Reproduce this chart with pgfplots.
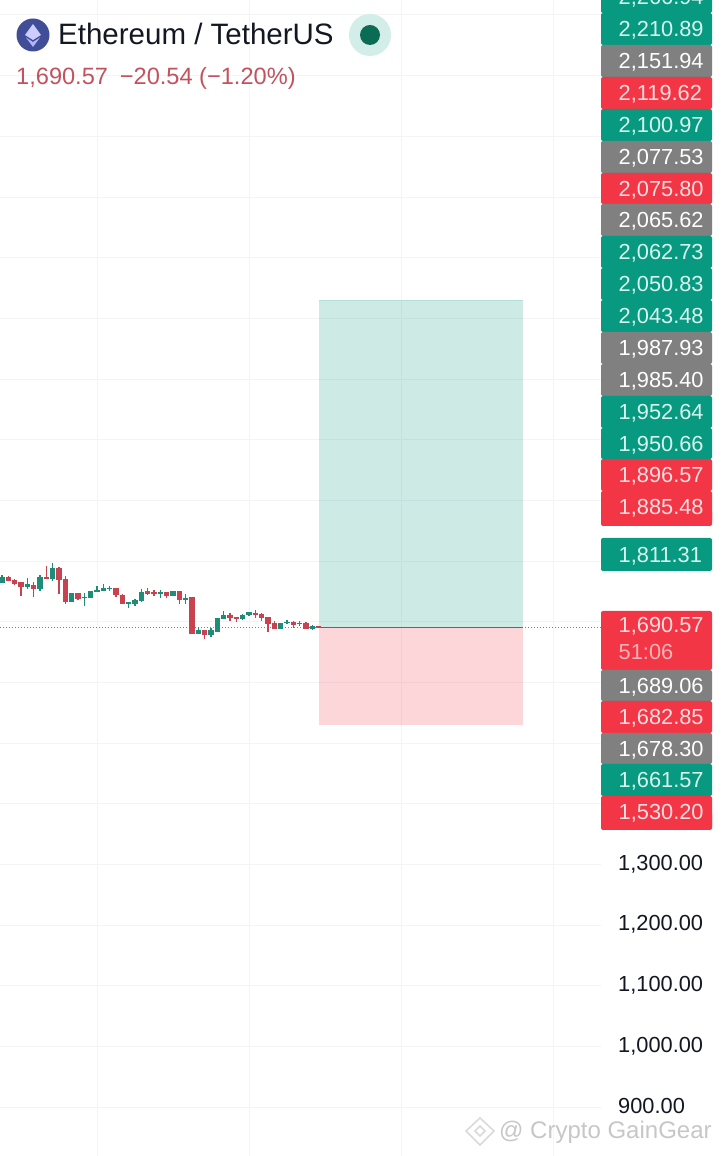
\documentclass[border=0pt]{standalone}
\usepackage{pgfplots}
\usepackage{pgfplotstable}
\usepackage{fontspec}
\setmainfont{Liberation Sans}
\pgfplotsset{compat=1.18}
\definecolor{cgreen}{HTML}{089981}
\definecolor{cred}{HTML}{F23645}
\definecolor{cgray}{HTML}{808080}
\definecolor{rbody}{HTML}{C8424F}
\definecolor{gbody}{HTML}{1F8C78}
\definecolor{gridc}{HTML}{F3F4F6}
\definecolor{tgreen}{HTML}{D6F5EF}
\definecolor{tred}{HTML}{FDDDE0}
\definecolor{pricec}{HTML}{C4525E}
\definecolor{ink}{HTML}{131722}
\definecolor{ethblue}{HTML}{3F4E96}
\definecolor{halo}{HTML}{D3EDE8}
\definecolor{dotc}{HTML}{0B6B55}
\pgfplotstableread{
x bot top low high
1 1764.3 1773.0 1764.3 1776.9
5 1756.6 1761.0 1753.3 1771.9
7 1753.8 1773.0 1751.1 1776.3
9 1770.9 1788.4 1767.0 1797.2
12 1733.0 1746.7 1733.0 1746.7
14 1739.5 1740.6 1725.8 1747.8
15 1739.5 1750.0 1739.5 1750.0
16 1749.4 1751.6 1748.3 1758.8
17 1751.1 1754.9 1750.5 1762.1
18 1754.4 1755.5 1750.5 1759.3
21 1730.2 1731.3 1723.0 1732.4
22 1729.6 1735.7 1726.3 1737.3
23 1734.0 1748.3 1732.4 1754.4
26 1746.7 1747.8 1739.0 1752.2
28 1742.8 1750.5 1742.8 1750.5
30 1736.7 1738.4 1729.0 1745.5
32 1680.1 1686.2 1680.1 1691.7
34 1678.5 1685.1 1675.2 1690.0
35 1683.4 1706.0 1683.4 1706.0
36 1704.3 1710.9 1704.3 1717.5
39 1704.3 1710.9 1702.7 1712.6
40 1710.4 1714.8 1709.8 1716.4
45 1688.4 1697.7 1688.4 1697.7
46 1697.7 1699.4 1696.6 1702.7
48 1696.1 1697.7 1693.3 1700.5
50 1688.4 1692.8 1686.7 1694.4
}\greencandles
\pgfplotstableread{
x bot top low high
2 1767.6 1773.6 1767.0 1774.5
3 1762.1 1768.7 1759.9 1769.8
4 1757.7 1764.3 1742.3 1764.3
6 1753.8 1760.4 1740.6 1764.8
8 1771.4 1773.0 1769.8 1792.3
10 1769.2 1788.4 1745.6 1790.6
11 1733.0 1770.3 1728.5 1775.2
13 1737.9 1746.7 1735.7 1746.7
19 1743.4 1755.5 1741.2 1755.5
20 1729.6 1743.9 1729.1 1745.0
24 1746.1 1750.0 1744.5 1754.9
25 1746.7 1747.8 1742.8 1752.2
27 1742.3 1747.8 1738.4 1749.4
29 1735.6 1750.5 1729.0 1750.5
31 1680.1 1739.5 1680.1 1741.1
33 1679.0 1686.2 1671.4 1686.2
37 1706.0 1710.9 1701.6 1713.7
38 1706.0 1707.1 1699.9 1707.1
41 1712.6 1713.7 1706.0 1719.2
42 1706.5 1712.6 1701.0 1714.8
43 1696.6 1707.6 1683.4 1707.6
44 1687.8 1697.7 1687.3 1701.6
47 1695.0 1699.4 1689.5 1700.5
49 1688.4 1697.7 1687.8 1698.8
51 1690.6 1692.2 1689.5 1692.2
}\redcandles
\newcommand{\candles}[2]{%
  \addplot[draw=none,mark=none,forget plot,error bars/.cd,y dir=both,y explicit,error mark=none,
    error bar style={line width=1.1pt,draw=#2}]
    table[x=x,y expr=(\thisrow{high}+\thisrow{low})/2,y error expr=(\thisrow{high}-\thisrow{low})/2]{#1};
  \addplot[draw=none,mark=none,forget plot,error bars/.cd,y dir=both,y explicit,error mark=none,
    error bar style={line width=5.2pt,draw=#2}]
    table[x=x,y expr=(\thisrow{top}+\thisrow{bot})/2,y error expr=(\thisrow{top}-\thisrow{bot})/2+0.3]{#1};
}
% top y, bottom y, fill, text colour, label
\newcommand{\pricetag}[5]{%
  \fill[#3,rounded corners=2pt] (601,#1) rectangle (712,#2);
  \node[anchor=west,inner sep=0pt,text=#4,font=\fontsize{21.8}{24}\selectfont] at (618.5,{(#1+#2)/2+1.5}) {#5};
}
\begin{document}
\begin{tikzpicture}
\path[use as bounding box] (0,0) rectangle (720pt,1156pt);
\clip (0,0) rectangle (720pt,1156pt);
\fill[white] (0,0) rectangle (720pt,1156pt);
\begin{axis}[
  at={(0,0)},anchor=south west,
  scale only axis,width=601pt,height=1156pt,
  xmin=0.684,xmax=95.58,ymin=819.2,ymax=2724.6,
  axis line style={draw=none},
  major tick length=0pt,
  xtick={16,40,64,88},xticklabel=\empty,
  ytick={900,1000,...,2700},
  yticklabel pos=right,
  yticklabels={{900.00},{1,000.00},{1,100.00},{1,200.00},{1,300.00}},
  yticklabel style={anchor=west,inner sep=0pt,xshift=17pt,yshift=0.5pt,text=ink,font=\fontsize{21.8}{24}\selectfont},
  grid=major,major grid style={draw=gridc,line width=0.8pt},
]
\addplot[fill=cgreen,fill opacity=0.2,draw=none,forget plot] coordinates {(51.05,1690.57) (83.27,1690.57) (83.27,2230.1) (51.05,2230.1)} --cycle;
\addplot[fill=cred,fill opacity=0.2,draw=none,forget plot] coordinates {(51.05,1690.57) (83.27,1690.57) (83.27,1530.2) (51.05,1530.2)} --cycle;
\addplot[cgreen!30,line width=0.7pt,forget plot] coordinates {(51.05,2230.1) (83.27,2230.1)};
\addplot[black!50,line width=0.6pt,dash pattern=on 0.8pt off 2.2pt,forget plot] coordinates {(0.684,1690.57) (95.58,1690.57)};
\addplot[black!60,line width=0.7pt,forget plot] coordinates {(51.05,1690.57) (83.27,1690.57)};
\candles{\greencandles}{gbody}
\candles{\redcandles}{rbody}
\end{axis}
\begin{scope}[x=1pt,y=-1pt,yshift=1156pt]
\pricetag{-19}{13}{cgreen}{tgreen}{2,266.94}
\pricetag{13}{45}{cgreen}{tgreen}{2,210.89}
\pricetag{45}{77}{cgray}{white}{2,151.94}
\pricetag{77}{109}{cred}{tred}{2,119.62}
\pricetag{109}{141}{cgreen}{tgreen}{2,100.97}
\pricetag{141}{173}{cgray}{white}{2,077.53}
\pricetag{173}{204}{cred}{tred}{2,075.80}
\pricetag{204}{236}{cgray}{white}{2,065.62}
\pricetag{236}{268}{cgreen}{tgreen}{2,062.73}
\pricetag{268}{300}{cgreen}{tgreen}{2,050.83}
\pricetag{300}{332}{cgreen}{tgreen}{2,043.48}
\pricetag{332}{364}{cgray}{white}{1,987.93}
\pricetag{364}{396}{cgray}{white}{1,985.40}
\pricetag{396}{428}{cgreen}{tgreen}{1,952.64}
\pricetag{428}{459}{cgreen}{tgreen}{1,950.66}
\pricetag{459}{491}{cred}{tred}{1,896.57}
\fill[cred,rounded corners=2pt] (601,510) rectangle (712,526);
\pricetag{491}{523}{cred}{tred}{1,885.48}
\pricetag{538}{571}{cgreen}{tgreen}{1,811.31}
\fill[cred,rounded corners=2pt] (601,611) rectangle (712,670);
\node[anchor=west,inner sep=0pt,text=tred,font=\fontsize{21.8}{24}\selectfont] at (618.5,626.5) {1,690.57};
\node[anchor=west,inner sep=0pt,text=tred!75!cred,font=\fontsize{21.8}{24}\selectfont] at (618.5,652.5) {51:06};
\pricetag{670}{701}{cgray}{white}{1,689.06}
\pricetag{701}{733}{cred}{tred}{1,682.85}
\pricetag{733}{764}{cgray}{white}{1,678.30}
\pricetag{764}{796}{cgreen}{tgreen}{1,661.57}
\fill[cred,rounded corners=2pt] (601,812) rectangle (712,830);
\pricetag{796}{828}{cred}{tred}{1,530.20}
% header
\fill[ethblue] (33,35) circle (16.5);
\fill[white!80!blue] (33,24) -- (41,35) -- (33,40) -- (25,35) -- cycle;
\fill[white!70!blue] (33,42) -- (40,37.5) -- (33,47) -- (26,37.5) -- cycle;
\node[anchor=west,inner sep=0pt,text=ink,font=\fontsize{29.5}{32}\selectfont] at (58,34) {Ethereum / TetherUS};
\fill[halo] (370,35) circle (21);
\fill[dotc] (370,35) circle (10);
\node[anchor=west,inner sep=0pt,text=pricec,font=\fontsize{23.6}{26}\selectfont] at (16,78) {1,690.57\hspace{0.5em}−20.54 (−1.20\%)};
% watermark
\begin{scope}[draw=black!15,line width=1.5pt]
\draw (480,1118) -- (494,1131) -- (480,1145) -- (466,1131) -- cycle;
\draw (480,1126) -- (485,1131) -- (480,1136) -- (475,1131) -- cycle;
\end{scope}
\node[anchor=west,inner sep=0pt,text=black!22,font=\fontsize{24}{26}\selectfont] at (499,1132) {@ Crypto GainGear};
\end{scope}
\end{tikzpicture}
\end{document}
